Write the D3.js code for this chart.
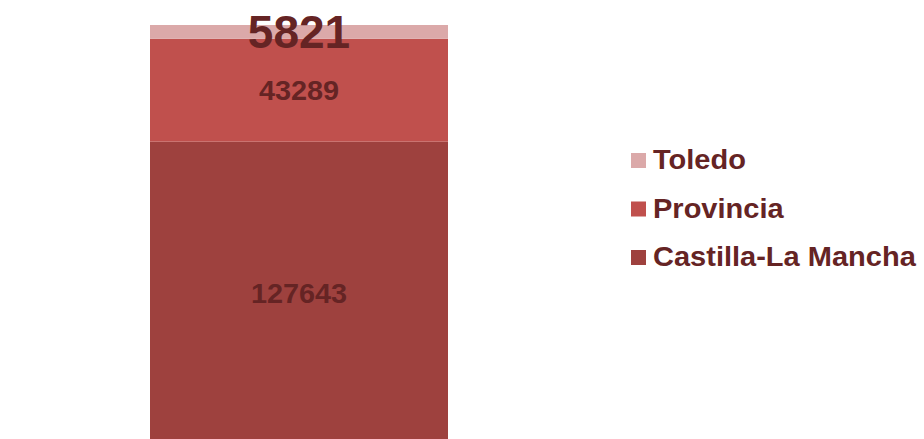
<!DOCTYPE html>
<html>
<head>
<meta charset="utf-8">
<script src="https://cdn.jsdelivr.net/npm/d3@7"></script>
<style>
  html, body { margin: 0; padding: 0; background: #fff; }
  svg { display: block; }
  text { font-family: "Liberation Sans", Arial, sans-serif; font-weight: bold; }
</style>
</head>
<body>
<svg id="chart" width="924" height="439"></svg>
<script>
const categories = [""];
const seriesNames = ["Castilla-La Mancha", "Provincia", "Toledo"];
const seriesValues = [127643, 43289, 5821];
const seriesColors = ["#9e413e", "#c0504d", "#dba9a9"];
const labelSizes = [28, 28, 46];
const legendOrder = ["Toledo", "Provincia", "Castilla-La Mancha"];

const svg = d3.select("#chart");
const textColor = "#652424";

const row = {};
seriesNames.forEach((n, i) => row[n] = seriesValues[i]);
const stacked = d3.stack().keys(seriesNames)([row]);
const total = d3.sum(seriesValues);

const x = d3.scaleBand().domain(categories).range([150, 448]).padding(0);
const y = d3.scaleLinear().domain([0, total]).range([445, 25]);
const color = d3.scaleOrdinal().domain(seriesNames).range(seriesColors);

const layers = svg.append("g").selectAll("g")
  .data(stacked).join("g")
  .attr("fill", d => color(d.key));

layers.selectAll("rect")
  .data(d => d).join("rect")
  .attr("x", (d, i) => x(categories[i]))
  .attr("width", x.bandwidth())
  .attr("y", d => y(d[1]))
  .attr("height", d => y(d[0]) - y(d[1]));

// labels
const cx = x(categories[0]) + x.bandwidth() / 2;
svg.append("g").selectAll("text")
  .data(stacked).join("text")
  .attr("transform", (d, i) => `translate(${cx}, ${(y(d[0][0]) + y(d[0][1])) / 2}) scale(${i === 2 ? 1 : 1.03}, 1)`)
  .attr("dy", "0.36em")
  .attr("text-anchor", "middle")
  .attr("font-size", (d, i) => labelSizes[i])
  .attr("fill", textColor)
  .text(d => d3.format("d")(d[0].data[d.key]));

// legend
const legend = svg.append("g").selectAll("g")
  .data(legendOrder).join("g")
  .attr("transform", (d, i) => `translate(631, ${169 + i * 48.5})`);

legend.append("rect")
  .attr("x", 0).attr("y", -16)
  .attr("width", 15).attr("height", 15)
  .attr("fill", d => color(d));

legend.append("text")
  .attr("transform", "translate(22,0) scale(1.075,1)")
  .attr("font-size", 27)
  .attr("fill", textColor)
  .text(d => d);
</script>
</body>
</html>
